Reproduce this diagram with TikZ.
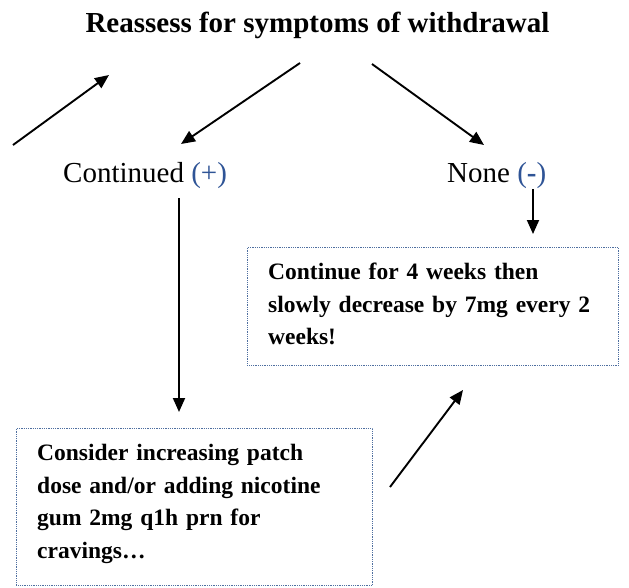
\documentclass[tikz,border=0pt]{standalone}
\usepackage{fontspec}
\setmainfont{Liberation Serif}
\usetikzlibrary{arrows.meta}
\definecolor{signblue}{RGB}{47,84,150}
\definecolor{framec}{RGB}{79,111,160}
\begin{document}
\begin{tikzpicture}[x=1pt,y=-1pt,
  arr/.style={line width=1.9pt,-{Triangle[length=14pt,width=12pt]}},
  frame/.style={draw=framec,line width=0.9pt,dash pattern=on 0.9pt off 0.9pt,inner sep=0pt,anchor=north west},
  boxtext/.style={inner sep=0pt,anchor=north west,align=left,font=\fontsize{23.5}{32.5}\selectfont\bfseries},
  lbl/.style={inner sep=0pt,anchor=base west,font=\fontsize{29}{34}\selectfont}
]
\useasboundingbox (0,0) rectangle (629,587);
% title
\node[inner sep=0pt,anchor=base,font=\fontsize{29}{34}\selectfont\bfseries] (title) at (317.5,32) {Reassess for symptoms of withdrawal};
% labels
\node[lbl] (cont) at (63,182) {Continued \textcolor{signblue}{(+)}};
\node[lbl] (none) at (447,182) {None \textcolor{signblue}{(\textbf{-})}};
% boxes
\node[frame,minimum width=371pt,minimum height=118pt] (box2) at (247,247) {};
\node[boxtext,text width=330pt] (t2) at (268,263) {Continue for 4 weeks then\\slowly decrease by 7mg every 2\\weeks!};
\node[frame,minimum width=356pt,minimum height=157pt] (box1) at (16,428) {};
\node[boxtext,text width=314pt] (t1) at (37,444) {Consider increasing patch\\dose and/or adding nicotine\\gum 2mg q1h prn for\\cravings…};
% arrow end points
\coordinate (a1s) at (13,145);
\coordinate (a1e) at (109,75);
\coordinate (a2s) at (300,63);
\coordinate (a2e) at (181,144);
\coordinate (a3s) at (372,64);
\coordinate (a3e) at (484,145);
\coordinate (v1s) at (179,198);
\coordinate (v1e) at (179,412);
\coordinate (v2s) at (533,189);
\coordinate (v2e) at (533,234);
\coordinate (a4s) at (390,487);
\coordinate (a4e) at (463,390);
\draw[arr] (a1s) -- (a1e);
\draw[arr] (a2s) -- (a2e);
\draw[arr] (a3s) -- (a3e);
\draw[arr] (v1s) -- (v1e);
\draw[arr] (v2s) -- (v2e);
\draw[arr] (a4s) -- (a4e);
\end{tikzpicture}
\end{document}
